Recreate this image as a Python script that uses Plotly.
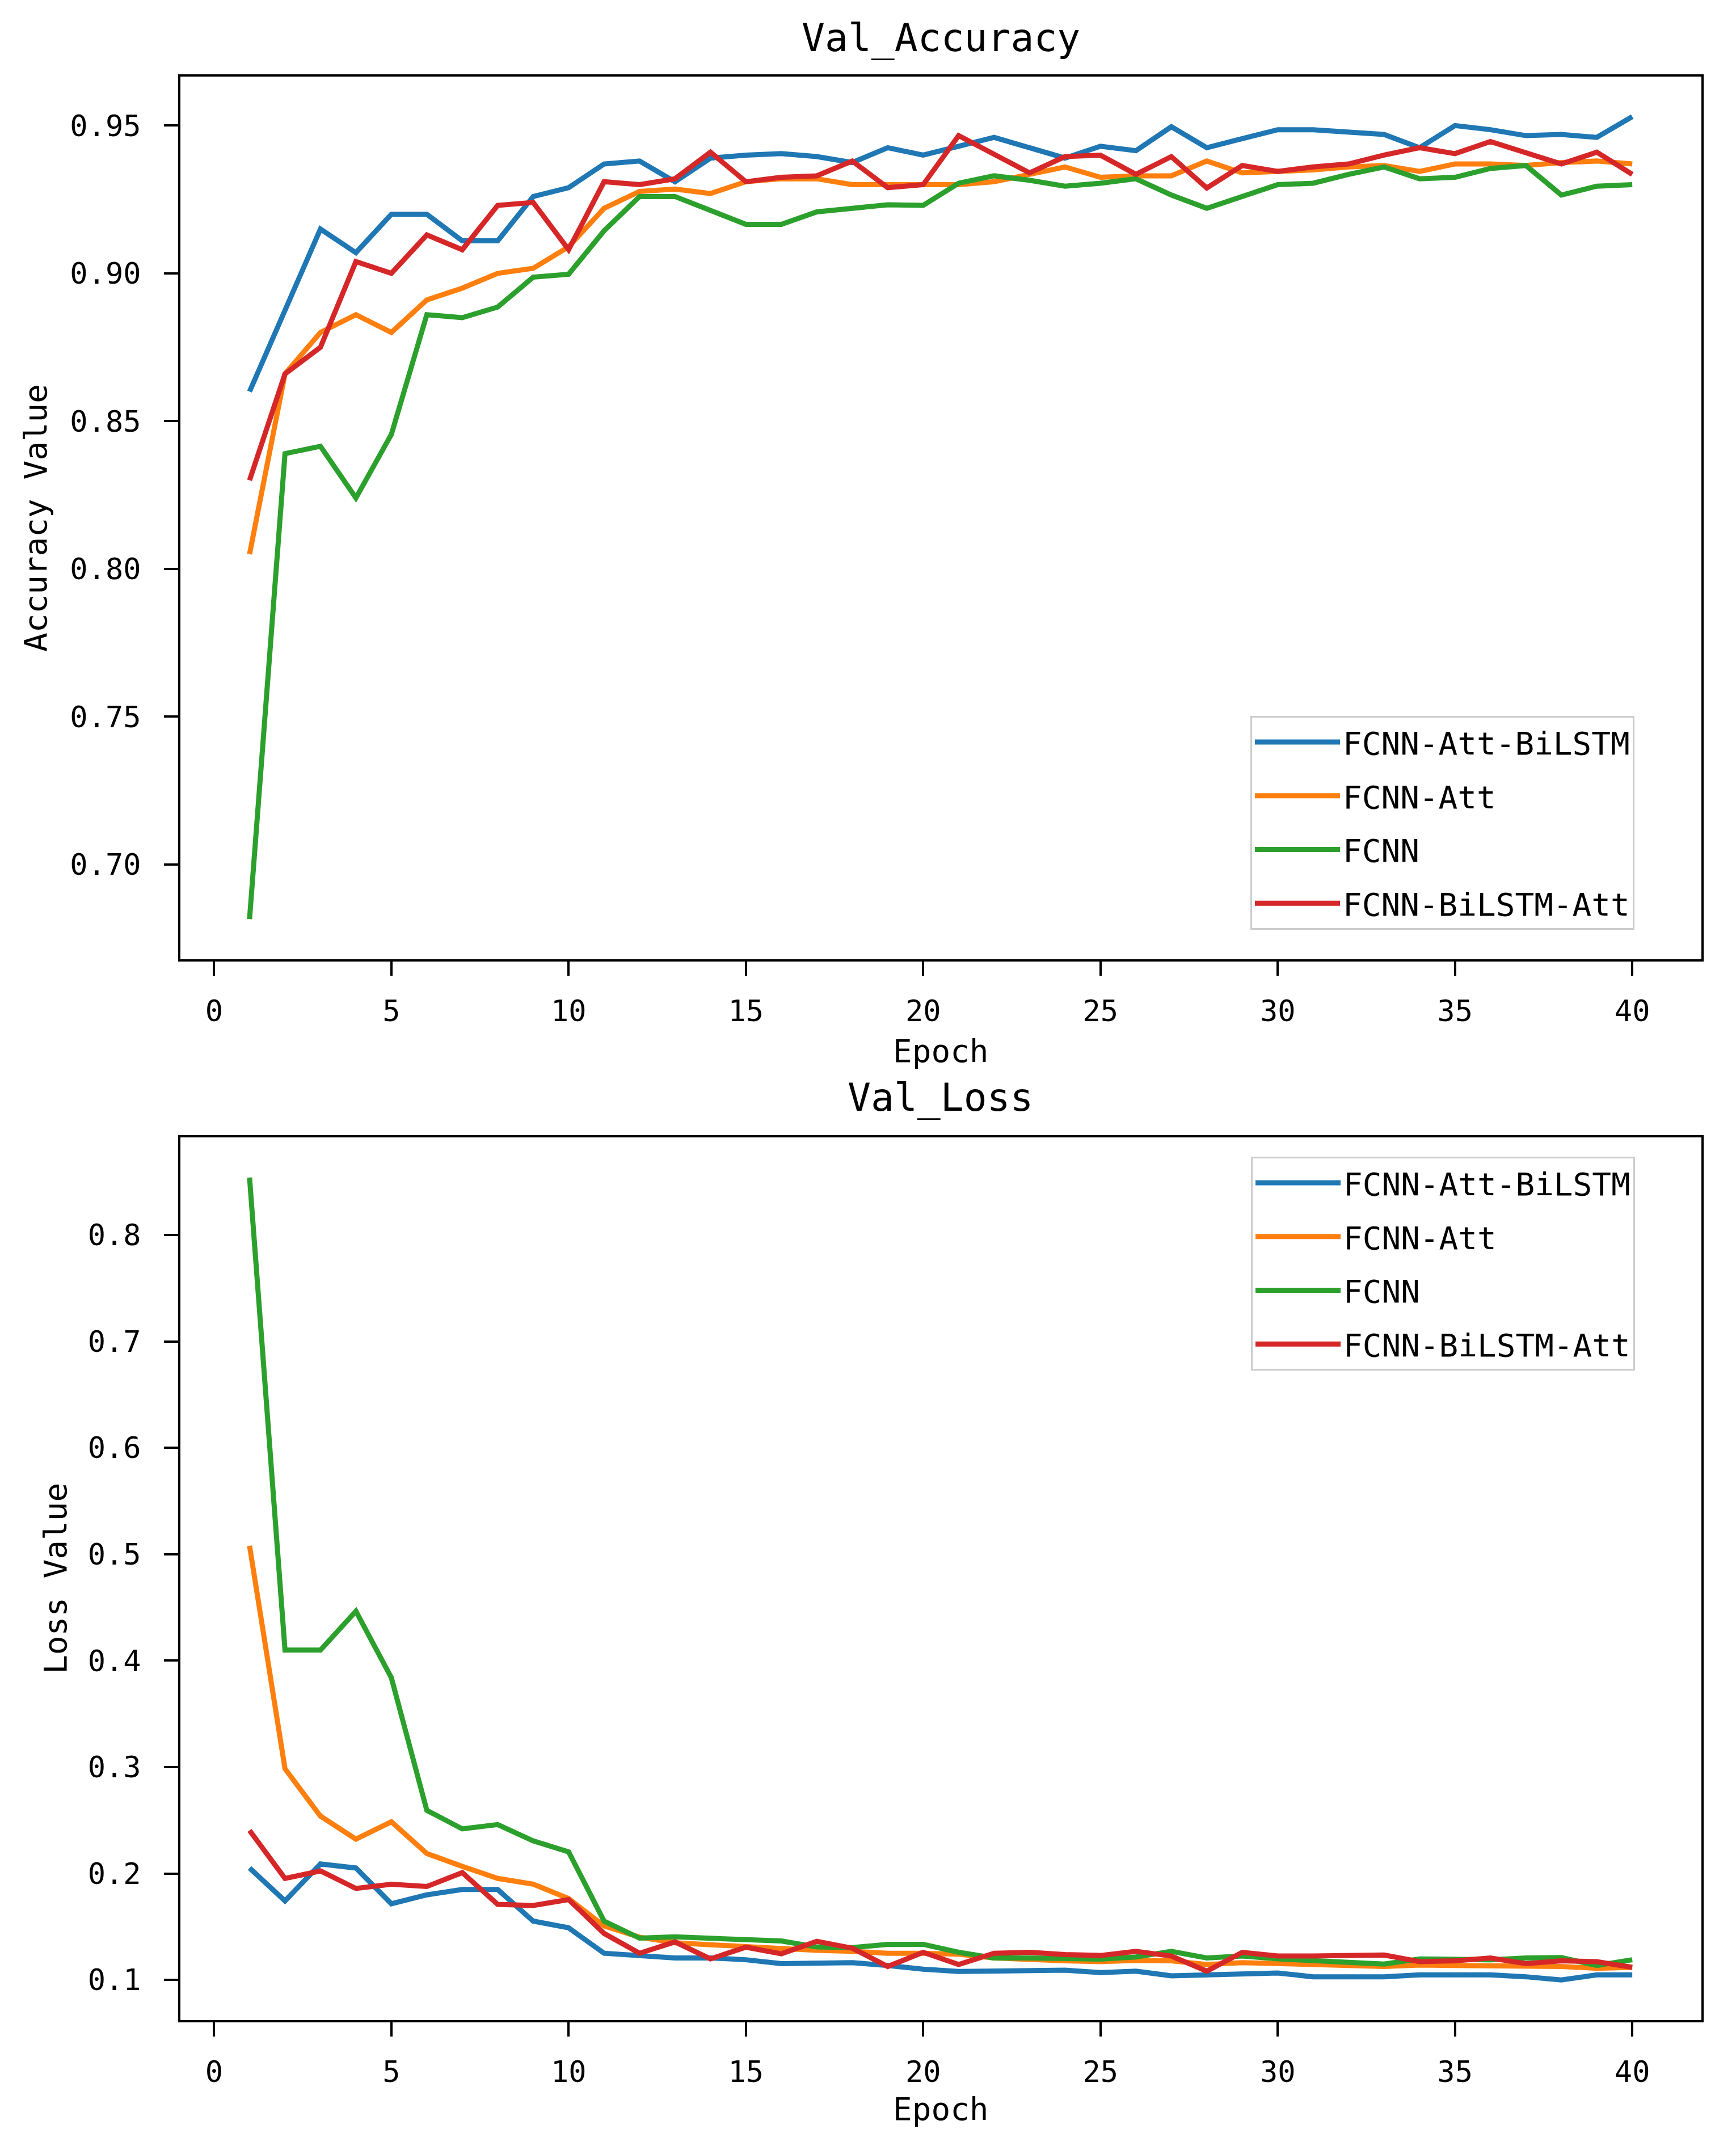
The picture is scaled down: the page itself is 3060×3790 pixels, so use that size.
import plotly.graph_objects as go

epochs = list(range(1, 41))

series_names = ["FCNN-Att-BiLSTM", "FCNN-Att", "FCNN", "FCNN-BiLSTM-Att"]
series_colors = ["#1f77b4", "#ff7f0e", "#2ca02c", "#d62728"]

acc_att_bilstm = [0.860, 0.888, 0.915, 0.907, 0.920, 0.920, 0.911, 0.911, 0.926, 0.929,
                  0.937, 0.938, 0.931, 0.939, 0.940, 0.9405, 0.9395, 0.9375, 0.9425, 0.940,
                  0.943, 0.946, 0.9425, 0.939, 0.943, 0.9415, 0.9496, 0.9425, 0.9456, 0.9486,
                  0.9486, 0.948, 0.947, 0.9425, 0.950, 0.9486, 0.9466, 0.947, 0.946, 0.953]
acc_att = [0.805, 0.866, 0.880, 0.886, 0.880, 0.891, 0.895, 0.900, 0.9017, 0.909,
           0.922, 0.9277, 0.9285, 0.927, 0.931, 0.932, 0.932, 0.930, 0.930, 0.930,
           0.930, 0.931, 0.9335, 0.936, 0.9325, 0.933, 0.933, 0.938, 0.934, 0.9345,
           0.935, 0.936, 0.9365, 0.9345, 0.937, 0.937, 0.9365, 0.9375, 0.938, 0.937]
acc_fcnn = [0.6815, 0.839, 0.8415, 0.824, 0.8455, 0.886, 0.885, 0.8886, 0.8987, 0.8997,
            0.9144, 0.926, 0.926, 0.9214, 0.9166, 0.9166, 0.9208, 0.922, 0.9232, 0.923,
            0.9305, 0.933, 0.9315, 0.9295, 0.9305, 0.932, 0.9265, 0.922, 0.926, 0.930,
            0.9305, 0.9335, 0.936, 0.932, 0.9325, 0.9355, 0.9365, 0.9265, 0.9295, 0.930]
acc_bilstm_att = [0.830, 0.866, 0.875, 0.904, 0.900, 0.913, 0.908, 0.923, 0.924, 0.908,
                  0.931, 0.930, 0.932, 0.941, 0.931, 0.9325, 0.933, 0.938, 0.929, 0.930,
                  0.9466, 0.9405, 0.934, 0.9395, 0.940, 0.9335, 0.9395, 0.9289, 0.9365, 0.9345,
                  0.936, 0.937, 0.940, 0.9425, 0.9405, 0.9446, 0.941, 0.937, 0.941, 0.9335]

loss_att_bilstm = [0.2052, 0.1743, 0.209, 0.2052, 0.1716, 0.180, 0.185, 0.185, 0.1553, 0.149,
                   0.1251, 0.1225, 0.1207, 0.1207, 0.119, 0.1154, 0.1158, 0.1163, 0.1136, 0.1101,
                   0.108, 0.108, 0.1092, 0.1092, 0.107, 0.1083, 0.1039, 0.1048, 0.1048, 0.1065,
                   0.103, 0.103, 0.103, 0.1048, 0.1048, 0.1048, 0.103, 0.100, 0.1048, 0.1048]
loss_att = [0.508, 0.2985, 0.254, 0.2323, 0.2486, 0.2188, 0.2068, 0.1954, 0.190, 0.1765,
            0.1508, 0.1402, 0.1349, 0.1331, 0.1313, 0.1287, 0.1278, 0.1269, 0.1251, 0.1251,
            0.1243, 0.1207, 0.119, 0.118, 0.1172, 0.1184, 0.118, 0.1145, 0.1163, 0.1154,
            0.1145, 0.1136, 0.1127, 0.114, 0.1136, 0.1136, 0.1136, 0.1127, 0.111, 0.1119]
loss_fcnn = [0.854, 0.410, 0.410, 0.4465, 0.384, 0.2594, 0.242, 0.246, 0.2307, 0.2204,
             0.1553, 0.1393, 0.1405, 0.1393, 0.1388, 0.1366, 0.131, 0.1304, 0.1335, 0.1335,
             0.126, 0.1207, 0.1207, 0.1198, 0.1196, 0.1216, 0.1269, 0.1207, 0.1225, 0.1198,
             0.118, 0.1172, 0.115, 0.1198, 0.1198, 0.119, 0.1207, 0.1211, 0.1136, 0.119]
loss_bilstm_att = [0.2405, 0.1954, 0.2025, 0.186, 0.190, 0.1878, 0.2009, 0.171, 0.170, 0.1756,
                   0.1437, 0.1251, 0.1358, 0.1198, 0.1308, 0.1246, 0.1363, 0.1299, 0.1127, 0.126,
                   0.1145, 0.1251, 0.126, 0.1239, 0.123, 0.1269, 0.1225, 0.1083, 0.126, 0.1225,
                   0.1225, 0.1228, 0.1234, 0.1172, 0.118, 0.1207, 0.1154, 0.118, 0.1172, 0.1119]

x_ticks = [0, 5, 10, 15, 20, 25, 30, 35, 40]
acc_ticks = [0.70, 0.75, 0.80, 0.85, 0.90, 0.95]
loss_ticks = [0.1, 0.2, 0.3, 0.4, 0.5, 0.6, 0.7, 0.8]

acc_series = [acc_att_bilstm, acc_att, acc_fcnn, acc_bilstm_att]
loss_series = [loss_att_bilstm, loss_att, loss_fcnn, loss_bilstm_att]

FONT = "DejaVu Sans Mono"
W, H = 3060, 3790


def padded(vals, frac=0.05):
    lo, hi = min(vals), max(vals)
    span = hi - lo
    return [lo - frac * span, hi + frac * span]


fig = go.Figure()
for name, color, ys in zip(series_names, series_colors, acc_series):
    fig.add_trace(go.Scatter(x=epochs, y=ys, mode="lines", name=name,
                             line=dict(color=color, width=9),
                             xaxis="x", yaxis="y", legend="legend",
                             legendgroup="a" + name))
for name, color, ys in zip(series_names, series_colors, loss_series):
    fig.add_trace(go.Scatter(x=epochs, y=ys, mode="lines", name=name,
                             line=dict(color=color, width=9),
                             xaxis="x2", yaxis="y2", legend="legend2",
                             legendgroup="l" + name))

xr = padded(epochs)
acc_all = [v for s in acc_series for v in s]
loss_all = [v for s in loss_series for v in s]

x_left, x_right = 318 / W, 2999 / W
top_dom = [1 - 1691 / H, 1 - 135 / H]
bot_dom = [1 - 3561 / H, 1 - 2005 / H]

axis_common = dict(showline=True, linecolor="black", linewidth=4, mirror=True,
                   ticks="outside", ticklen=25, tickwidth=4, tickcolor="black",
                   showgrid=False, zeroline=False,
                   tickfont=dict(family=FONT, size=52, color="black"))

legend_common = dict(bgcolor="rgba(255,255,255,0.8)", bordercolor="#cccccc",
                     borderwidth=3, font=dict(family=FONT, size=56, color="black"),
                     itemwidth=150, tracegroupgap=19, xanchor="left", yanchor="top",
                     traceorder="grouped")

fig.update_layout(
    width=W, height=H, margin=dict(l=0, r=0, t=0, b=0),
    paper_bgcolor="white", plot_bgcolor="white",
    xaxis=dict(domain=[x_left, x_right], range=xr, tickvals=x_ticks, anchor="y",
               ticklabelstandoff=18, **axis_common),
    yaxis=dict(domain=top_dom, range=padded(acc_all), tickvals=acc_ticks, tickformat=".2f",
               anchor="x", ticklabelstandoff=30, **axis_common),
    xaxis2=dict(domain=[x_left, x_right], range=xr, tickvals=x_ticks, anchor="y2",
                ticklabelstandoff=18, **axis_common),
    yaxis2=dict(domain=bot_dom, range=padded(loss_all), tickvals=loss_ticks, tickformat=".1f",
                anchor="x2", ticklabelstandoff=30, **axis_common),
    legend=dict(x=2204 / W, y=1 - 1262 / H, **legend_common),
    legend2=dict(x=2205 / W, y=1 - 2039 / H, **legend_common),
    showlegend=True,
)

xc = (x_left + x_right) / 2
texts = [
    ("Val_Accuracy", xc, 1 - 67 / H, 0, 68),
    ("Val_Loss", xc, 1 - 1934 / H, 0, 68),
    ("Epoch", xc, 1 - 1852 / H, 0, 56),
    ("Epoch", xc, 1 - 3717 / H, 0, 56),
    ("Accuracy Value", 63 / W, (top_dom[0] + top_dom[1]) / 2, -90, 56),
    ("Loss Value", 97 / W, (bot_dom[0] + bot_dom[1]) / 2, -90, 56),
]
for t, x, y, ang, sz in texts:
    fig.add_annotation(text=t, x=x, y=y, xref="paper", yref="paper", showarrow=False,
                       xanchor="center", yanchor="middle", textangle=ang,
                       font=dict(family=FONT, size=sz, color="black"))

fig.write_html("out.html")
